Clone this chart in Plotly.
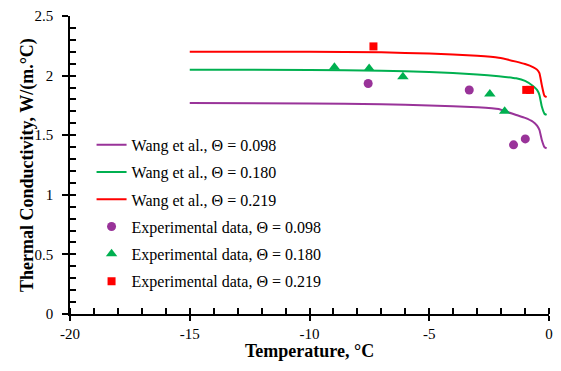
import plotly.graph_objects as go

# Model curves (Wang et al.)
curve_x = [-15, -10, -7, -5, -3, -2.1, -1.37, -1.0, -0.67, -0.5, -0.4, -0.3, -0.19, -0.1]
wang_098 = [1.77, 1.765, 1.76, 1.75, 1.735, 1.72, 1.669, 1.645, 1.613, 1.58, 1.544, 1.46, 1.40, 1.39]
wang_180 = [2.05, 2.048, 2.04, 2.03, 2.01, 1.995, 1.977, 1.955, 1.913, 1.88, 1.837, 1.74, 1.68, 1.67]
wang_219 = [2.20, 2.20, 2.195, 2.185, 2.166, 2.15, 2.117, 2.097, 2.072, 2.05, 2.02, 1.92, 1.83, 1.82]

# Experimental data
exp098_x = [-7.55, -3.33, -1.48, -0.99]
exp098_y = [1.934, 1.879, 1.419, 1.469]
exp180_x = [-8.96, -7.51, -6.10, -2.47, -1.85]
exp180_y = [2.07, 2.06, 1.99, 1.845, 1.70]
exp219_x = [-7.33, -0.95, -0.79]
exp219_y = [2.245, 1.88, 1.88]

# Tick labels
x_tickvals = [-20, -15, -10, -5, 0]
x_ticktext = ["-20", "-15", "-10", "-5", "0"]
y_tickvals = [0, 0.5, 1, 1.5, 2, 2.5]
y_ticktext = ["0", "0.5", "1", "1.5", "2", "2.5"]

PURPLE = "#993399"
GREEN = "#00B050"
RED = "#FF0000"
FONT = "Liberation Serif"

fig = go.Figure()
for i, (y, c, name) in enumerate([(wang_098, PURPLE, "Wang et al., Θ = 0.098"),
                                  (wang_180, GREEN, "Wang et al., Θ = 0.180"),
                                  (wang_219, RED, "Wang et al., Θ = 0.219")]):
    fig.add_trace(go.Scatter(x=curve_x, y=y, mode="lines", name=name, legendgroup=f"g{i}",
                             line=dict(color=c, width=2, shape="spline", smoothing=0.5)))

for i, (xs, ys, c, sym, sz, name) in enumerate([
        (exp098_x, exp098_y, PURPLE, "circle", 9, "Experimental data, Θ = 0.098"),
        (exp180_x, exp180_y, GREEN, "triangle-up", 10, "Experimental data, Θ = 0.180"),
        (exp219_x, exp219_y, RED, "square", 8, "Experimental data, Θ = 0.219")]):
    fig.add_trace(go.Scatter(x=xs, y=ys, mode="markers", name=name, legendgroup=f"m{i}",
                             marker=dict(color=c, symbol=sym, size=sz)))

tickfont = dict(family=FONT, size=15, color="black")
titlefont = dict(family=FONT, size=18, color="black")

fig.update_layout(
    width=561, height=371,
    margin=dict(l=70, r=8, t=16, b=57),
    paper_bgcolor="white", plot_bgcolor="white",
    font=dict(family=FONT, size=15, color="black"),
    xaxis=dict(range=[-20, 0], tickvals=x_tickvals, ticktext=x_ticktext,
               showline=True, linecolor="black", linewidth=1.5, showgrid=False, zeroline=False,
               ticks="outside", ticklen=5, tickwidth=1.5, tickcolor="black", tickfont=tickfont,
               minor=dict(tickmode="linear", tick0=0, dtick=1, ticks="inside", ticklen=6,
                          tickwidth=1.5, tickcolor="black", showgrid=False)),
    yaxis=dict(range=[0, 2.5], tickvals=y_tickvals, ticktext=y_ticktext,
               showline=True, linecolor="black", linewidth=1.5, showgrid=False, zeroline=False,
               ticks="outside", ticklen=6, tickwidth=1.5, tickcolor="black", tickfont=tickfont,
               ticklabelstandoff=6),
    # overlay y axis drawing the inner ticks along the y axis line
    yaxis2=dict(overlaying="y", range=[0, 2.5], tick0=0, dtick=0.1, tickmode="linear",
                anchor="x", side="left",
                showticklabels=False, showline=False, showgrid=False, zeroline=False,
                ticks="inside", ticklen=6, tickwidth=1.5, tickcolor="black"),
    legend=dict(x=0.045, y=0.625, xanchor="left", yanchor="top",
                bgcolor="rgba(0,0,0,0)", font=dict(family=FONT, size=16, color="black"),
                tracegroupgap=3.5, itemwidth=30),
    showlegend=True,
    annotations=[
        dict(text="<b>Temperature, °C</b>", xref="paper", yref="paper", x=0.5, y=0,
             xanchor="center", yanchor="middle", yshift=-37, showarrow=False, font=titlefont),
        dict(text="<b>Thermal Conductivity, W/(m.°C)</b>", xref="paper", yref="paper", x=0, y=0.5,
             xanchor="center", yanchor="middle", xshift=-43, textangle=-90, showarrow=False,
             font=titlefont),
    ],
)

# invisible trace to activate the overlay y axis
fig.add_trace(go.Scatter(x=[-20], y=[0], yaxis="y2", mode="markers",
                         marker=dict(opacity=0), showlegend=False, hoverinfo="skip"))

fig.write_html("out.html")
